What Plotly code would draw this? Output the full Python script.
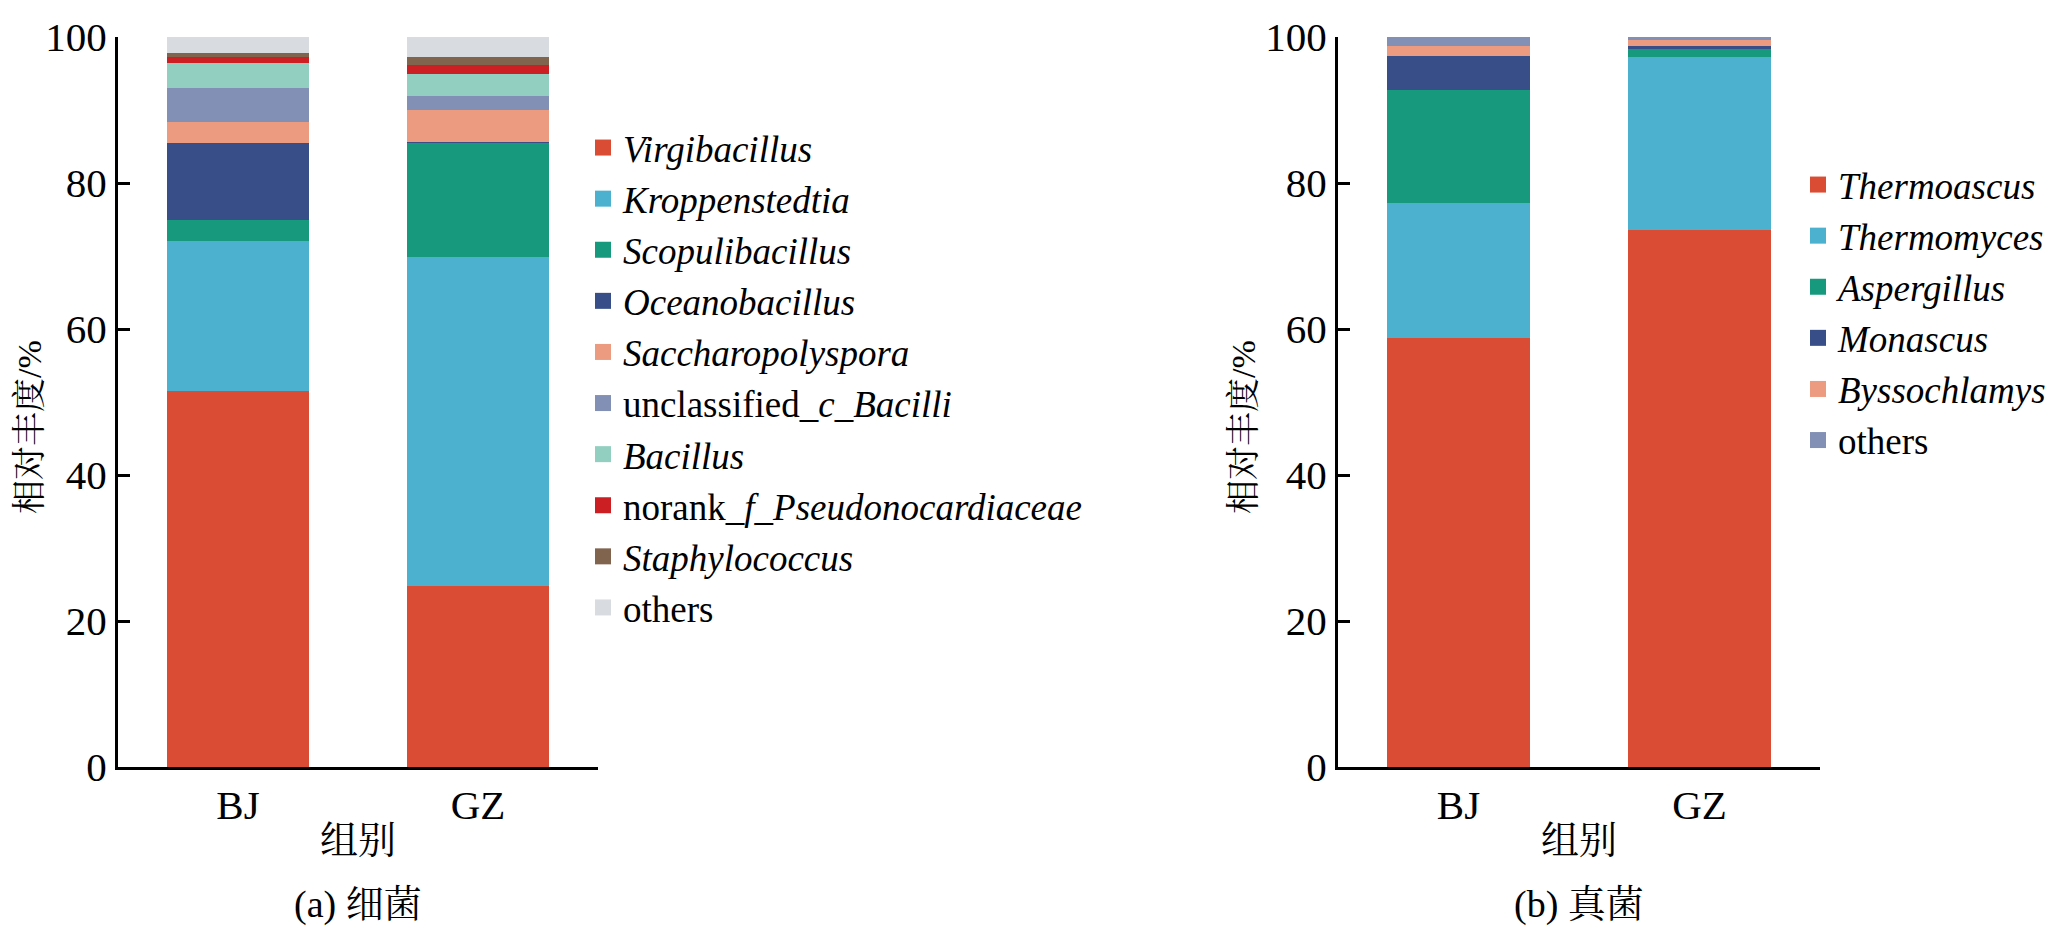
import plotly.graph_objects as go

# --- data (relative abundance, %) ---
groups = ["BJ", "GZ"]

bact_taxa = ["<i>Virgibacillus</i>", "<i>Kroppenstedtia</i>", "<i>Scopulibacillus</i>",
             "<i>Oceanobacillus</i>", "<i>Saccharopolyspora</i>",
             "unclassified_<i>c</i>_<i>Bacilli</i>", "<i>Bacillus</i>",
             "norank_<i>f</i>_<i>Pseudonocardiaceae</i>", "<i>Staphylococcus</i>", "others"]
bact_bj = [51.5, 20.5, 2.9, 10.6, 2.8, 4.7, 3.4, 0.9, 0.5, 2.2]
bact_gz = [24.8, 45.1, 15.6, 0.1, 4.4, 1.9, 3.0, 1.2, 1.2, 2.7]
bact_colors = ["#DA4C34", "#4BB1CF", "#17997E", "#384E88", "#EC9A80",
               "#8290B5", "#92CFC0", "#CC1F24", "#80644E", "#D8DBDF"]

fungi_taxa = ["<i>Thermoascus</i>", "<i>Thermomyces</i>", "<i>Aspergillus</i>",
              "<i>Monascus</i>", "<i>Byssochlamys</i>", "others"]
fungi_bj = [58.8, 18.4, 15.6, 4.6, 1.4, 1.2]
fungi_gz = [73.5, 23.7, 1.2, 0.3, 0.9, 0.4]
fungi_colors = ["#DA4C34", "#4BB1CF", "#17997E", "#384E88", "#EC9A80", "#8290B5"]

y_ticks = [0, 20, 40, 60, 80, 100]

FONT = "Liberation Serif, Noto Serif CJK SC, Noto Sans CJK SC"
# page body has an 8px margin, so the figure is 8px smaller and all
# window positions below are shifted by that much
OFF = 8
W, H = 2063 - OFF, 928 - OFF


def px(x):
    return (x - OFF) / W


def py(y):
    return 1 - (y - OFF) / H


fig = go.Figure()


def add_panel(taxa, bj, gz, colors, xa, ya, legend):
    for name, a, b, c in zip(taxa, bj, gz, colors):
        fig.add_trace(go.Bar(x=groups, y=[a, b], name=name, width=0.59,
                             marker=dict(color=c, line=dict(width=0)),
                             xaxis=xa, yaxis=ya, showlegend=False))
        # legend-only entry so the swatch can be bigger than the bar default
        fig.add_trace(go.Scatter(x=[None], y=[None], mode="markers", name=name,
                                 marker=dict(symbol="square", size=16, color=c),
                                 xaxis=xa, yaxis=ya, legend=legend))


add_panel(bact_taxa, bact_bj, bact_gz, bact_colors, "x", "y", "legend")
add_panel(fungi_taxa, fungi_bj, fungi_gz, fungi_colors, "x2", "y2", "legend2")

y_dom = [py(767), py(37)]
axis_common = dict(showline=True, linecolor="black", linewidth=3, showgrid=False,
                   zeroline=False, automargin=False,
                   tickfont=dict(size=41, color="black", family=FONT))
xcommon = dict(axis_common, range=[-0.5, 1.5], ticks="", title=dict(
    text="组别", font=dict(size=38, family=FONT, color="black"), standoff=0))
ycommon = dict(axis_common, range=[0, 100], tickvals=y_ticks, ticks="inside",
               ticklen=12, tickwidth=3, tickcolor="black")

legend_common = dict(font=dict(size=37, family=FONT, color="black"), bgcolor="rgba(0,0,0,0)",
                     xanchor="left", yanchor="top", traceorder="normal")

fig.update_layout(
    width=W, height=H, margin=dict(l=0, r=0, t=0, b=0, autoexpand=False),
    plot_bgcolor="white", paper_bgcolor="white", barmode="stack",
    font=dict(family=FONT, color="black"),
    xaxis=dict(xcommon, domain=[px(118), px(598)], anchor="y"),
    yaxis=dict(ycommon, domain=y_dom, anchor="x"),
    xaxis2=dict(xcommon, domain=[px(1338), px(1820)], anchor="y2"),
    yaxis2=dict(ycommon, domain=y_dom, anchor="x2"),
    legend=dict(legend_common, x=px(583), y=py(117)),
    legend2=dict(legend_common, x=px(1798), y=py(154)),
)

for xc, cap in [(358, "(a) 细菌"), (1579, "(b) 真菌")]:
    fig.add_annotation(x=px(xc), y=py(904), xref="paper", yref="paper", text=cap,
                       xanchor="center", yanchor="middle", showarrow=False,
                       font=dict(size=38, family=FONT, color="black"))
for xc in [29, 1243]:
    fig.add_annotation(x=px(xc), y=py(427), xref="paper", yref="paper", text="相对丰度/%",
                       textangle=-90, xanchor="center", yanchor="middle", showarrow=False,
                       font=dict(size=34, family=FONT, color="black"))

fig.write_html("out.html")
